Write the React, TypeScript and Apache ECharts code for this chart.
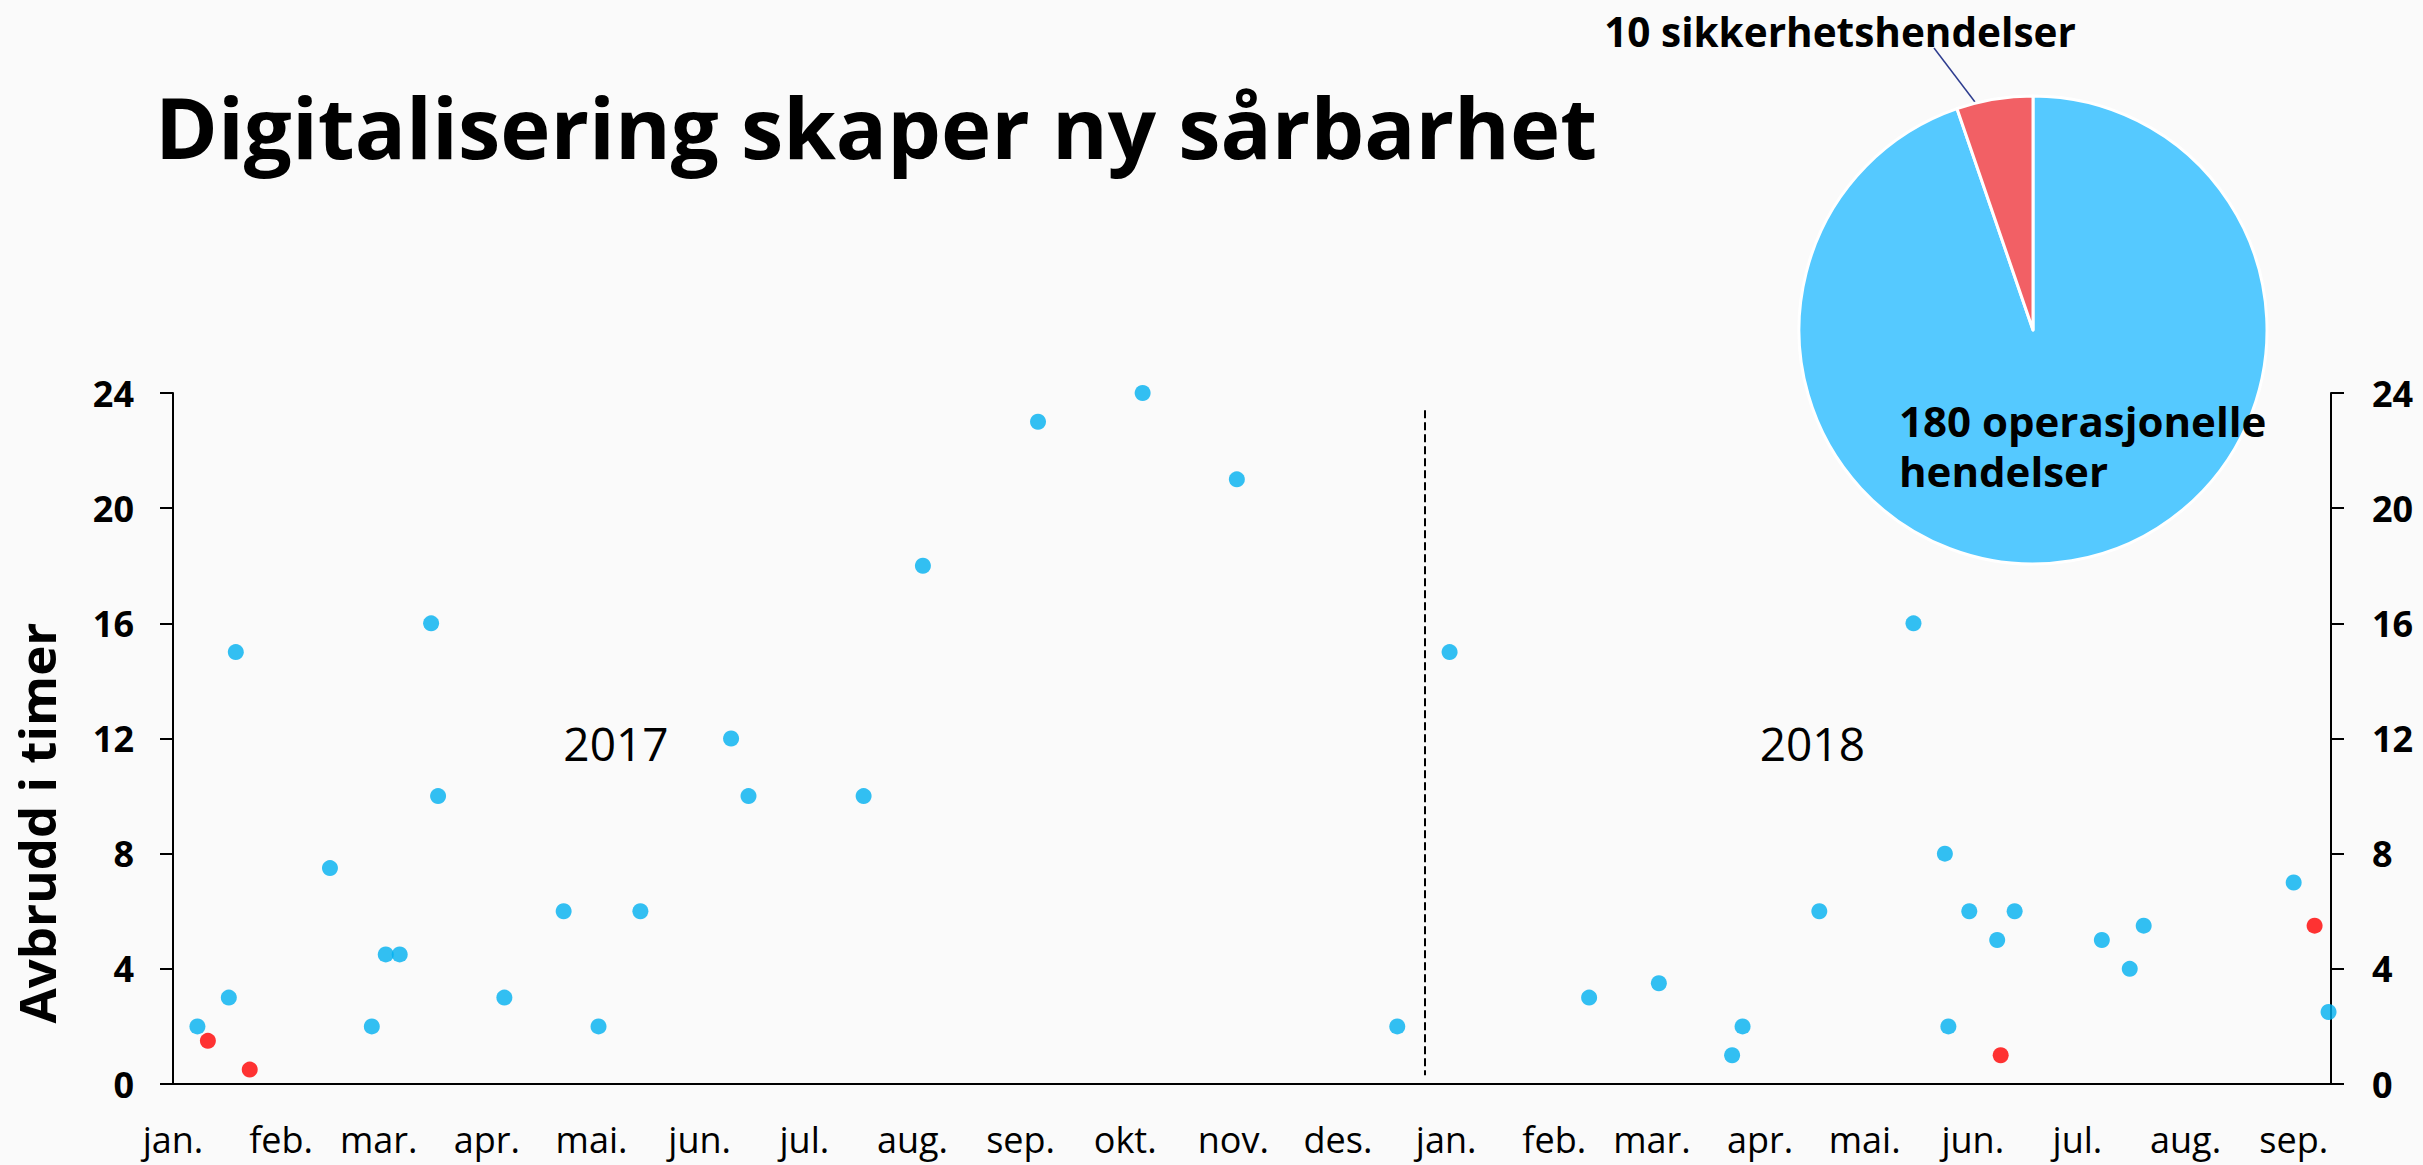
import React, { useEffect, useRef } from "react";
import * as echarts from "echarts";

// ---- data ----
const monthStarts = [
  "2017-01-01", "2017-02-01", "2017-03-01", "2017-04-01", "2017-05-01", "2017-06-01",
  "2017-07-01", "2017-08-01", "2017-09-01", "2017-10-01", "2017-11-01", "2017-12-01",
  "2018-01-01", "2018-02-01", "2018-03-01", "2018-04-01", "2018-05-01", "2018-06-01",
  "2018-07-01", "2018-08-01", "2018-09-01",
];
const monthLabels = [
  "jan.", "feb.", "mar.", "apr.", "mai.", "jun.", "jul.", "aug.", "sep.", "okt.", "nov.", "des.",
  "jan.", "feb.", "mar.", "apr.", "mai.", "jun.", "jul.", "aug.", "sep.",
];
const yTicks = [0, 4, 8, 12, 16, 20, 24];

const opDates = [
  "2017-01-08", "2017-01-17", "2017-01-19", "2017-02-15", "2017-02-27", "2017-03-03",
  "2017-03-07", "2017-03-16", "2017-03-18", "2017-04-06", "2017-04-23", "2017-05-03",
  "2017-05-15", "2017-06-10", "2017-06-15", "2017-07-18", "2017-08-04", "2017-09-06",
  "2017-10-06", "2017-11-02", "2017-12-18", "2018-01-02", "2018-02-11", "2018-03-03",
  "2018-03-24", "2018-03-27", "2018-04-18", "2018-05-15", "2018-05-24", "2018-05-25",
  "2018-05-31", "2018-06-08", "2018-06-13", "2018-07-08", "2018-07-16", "2018-07-20",
  "2018-09-01", "2018-09-11",
];
const opValues = [
  2, 3, 15, 7.5, 2, 4.5, 4.5, 16, 10, 3, 6, 2, 6, 12, 10, 10, 18, 23, 24, 21, 2, 15, 3, 3.5,
  1, 2, 6, 16, 8, 2, 6, 5, 6, 5, 4, 5.5, 7, 2.5,
];
const secDates = ["2017-01-11", "2017-01-23", "2018-06-09", "2018-09-07"];
const secValues = [1.5, 0.5, 1, 5.5];

const pieNames = ["180 operasjonelle\nhendelser", "10 sikkerhetshendelser"];
const pieValues = [180, 10];

const yearLabels = ["2017", "2018"];
const yearLabelDates = ["2017-05-08", "2018-04-16"];
const yearLabelValue = 11.85;
const dividerDate = "2017-12-26";
const dividerRange = [0.3, 23.4];
const axisEnd = "2018-09-11";

const title = "Digitalisering skaper ny sårbarhet";
const yName = "Avbrudd i timer";

const dayOf = (s: string) => {
  const [y, m, d] = s.split("-").map(Number);
  return (Date.UTC(y, m - 1, d) - Date.UTC(2017, 0, 1)) / 86400000;
};

const FONT = "Open Sans";

export default function App() {
  const ref = useRef<HTMLDivElement>(null);
  useEffect(() => {
    if (!ref.current) return;
    const chart = echarts.init(ref.current, undefined, { renderer: "svg" });
    const monthDays = monthStarts.map(dayOf);
    const labelFor = (v: number) => {
      const i = monthDays.findIndex((d) => Math.abs(d - v) < 0.01);
      return i >= 0 ? monthLabels[i] : "";
    };
    const yAxisBase = {
      type: "value",
      min: yTicks[0],
      max: yTicks[yTicks.length - 1],
      interval: 4,
      axisLine: { show: true, lineStyle: { color: "#000", width: 2 } },
      axisTick: { show: true, length: 13, lineStyle: { color: "#000", width: 2 } },
      splitLine: { show: false },
      axisLabel: { fontSize: 36, fontWeight: "bold", color: "#000", fontFamily: FONT, margin: 39 },
    };
    chart.setOption({
      animation: false,
      backgroundColor: "#fafafa",
      textStyle: { fontFamily: FONT },
      graphic: [
        {
          type: "text",
          left: 155,
          top: 83,
          style: { text: title, fontSize: 85, fontWeight: "bold", fill: "#000", fontFamily: FONT },
        },
        {
          type: "text",
          x: 36,
          y: 823,
          rotation: Math.PI / 2,
          style: {
            text: yName,
            fontSize: 51,
            lineHeight: 44,
            fontWeight: "bold",
            fill: "#000",
            fontFamily: FONT,
            align: "center",
            verticalAlign: "middle",
          },
        },
      ],
      grid: { left: 173, right: 92, top: 393, bottom: 81, containLabel: false },
      xAxis: {
        type: "value",
        min: 0,
        max: dayOf(axisEnd) + 0.7,
        axisLine: { show: true, lineStyle: { color: "#000", width: 2 } },
        axisTick: { show: false },
        splitLine: { show: false },
        axisLabel: {
          customValues: monthDays,
          formatter: (v: number) => labelFor(v),
          fontSize: 36,
          color: "#000",
          fontFamily: FONT,
          margin: 37,
          showMinLabel: true,
          showMaxLabel: true,
        },
      },
      yAxis: [
        { ...yAxisBase, position: "left" },
        { ...yAxisBase, position: "right", axisLabel: { ...yAxisBase.axisLabel, margin: 41 } },
      ],
      series: [
        {
          type: "scatter",
          name: "operasjonelle",
          clip: false,
          symbolSize: 16,
          itemStyle: { color: "#00b0f0" },
          data: opDates.map((d, i) => [dayOf(d), opValues[i]]),
          markLine: {
            silent: true,
            symbol: "none",
            label: { show: false },
            lineStyle: { color: "#000", width: 2, type: [8, 4] },
            data: [
              [
                { coord: [dayOf(dividerDate), dividerRange[1]] },
                { coord: [dayOf(dividerDate), dividerRange[0]] },
              ],
            ],
          },
          markPoint: {
            silent: true,
            symbol: "circle",
            symbolSize: 0,
            label: {
              show: true,
              position: "inside",
              fontSize: 46,
              color: "#000",
              fontFamily: FONT,
              formatter: (p: any) => p.name,
            },
            data: yearLabels.map((t, i) => ({
              name: t,
              coord: [dayOf(yearLabelDates[i]), yearLabelValue],
            })),
          },
        },
        {
          type: "scatter",
          name: "sikkerhet",
          clip: false,
          symbolSize: 16,
          itemStyle: { color: "#ff0000" },
          data: secDates.map((d, i) => [dayOf(d), secValues[i]]),
        },
        {
          type: "pie",
          center: [2033, 330],
          radius: 234,
          startAngle: 90,
          clockwise: true,
          itemStyle: { borderColor: "#fff", borderWidth: 3 },
          labelLayout: (params: any) => {
            if (params.dataIndex === 0) {
              return { x: 1899, y: 445, align: "left", verticalAlign: "middle" };
            }
            return {
              x: 1840,
              y: 31,
              align: "center",
              verticalAlign: "middle",
              labelLinePoints: [
                [1975, 102],
                [1934, 48],
                [1934, 48],
              ],
            };
          },
          data: [
            {
              name: pieNames[0],
              value: pieValues[0],
              itemStyle: { color: "#55c9ff" },
              label: {
                show: true,
                position: "inside",
                formatter: "{b}",
                fontSize: 42,
                lineHeight: 50,
                fontWeight: "bold",
                color: "#000",
                fontFamily: FONT,
                align: "left",
              },
              labelLine: { show: false },
            },
            {
              name: pieNames[1],
              value: pieValues[1],
              itemStyle: { color: "#f26065" },
              label: {
                show: true,
                position: "outside",
                formatter: "{b}",
                fontSize: 40.5,
                fontWeight: "bold",
                color: "#000",
                fontFamily: FONT,
              },
              labelLine: { show: true, lineStyle: { color: "#2e3d8f", width: 1.5 } },
            },
          ],
        },
      ],
    });
    return () => chart.dispose();
  }, []);
  return (
    <div
      ref={ref}
      style={{ position: "fixed", left: 0, top: 0, width: 2423, height: 1165 }}
    />
  );
}
